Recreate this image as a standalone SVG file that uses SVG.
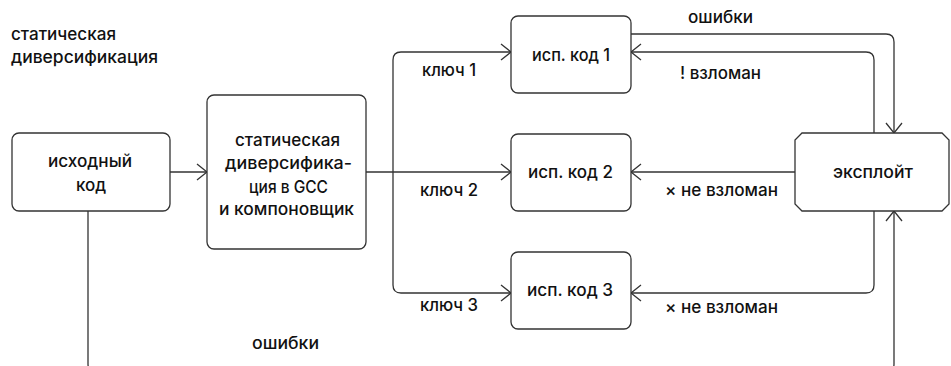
<svg xmlns="http://www.w3.org/2000/svg" width="951" height="366" viewBox="0 0 951 366">
<style>
text{font-family:Inter,"Noto Sans",sans-serif;font-size:17px;fill:#111;font-weight:500}
.c{text-anchor:middle}
.box{fill:#fff;stroke:#333;stroke-width:1.3}
.ln{fill:none;stroke:#333;stroke-width:1.3}
</style>
<defs>
<marker id="a" markerUnits="userSpaceOnUse" markerWidth="12" markerHeight="18" viewBox="-1 -1 12 18" refX="10" refY="8" orient="auto">
<path d="M0 0 L10 8 L0 16" fill="none" stroke="#333" stroke-width="1.3"/>
</marker>
</defs>
<text x="11" y="40" textLength="105" lengthAdjust="spacingAndGlyphs">статическая</text>
<text x="11" y="63" textLength="147" lengthAdjust="spacingAndGlyphs">диверсификация</text>
<g id="connectors">
<path class="ln" d="M170 172 H207" marker-end="url(#a)"/>
<path class="ln" d="M366 172 H511" marker-end="url(#a)"/>
<path class="ln" d="M393 172 V60 Q393 52 401 52 H511" marker-end="url(#a)"/>
<path class="ln" d="M393 172 V285 Q393 293 401 293 H511" marker-end="url(#a)"/>
<path class="ln" d="M795 172 H631" marker-end="url(#a)"/>
<path class="ln" d="M874 133 V60 Q874 52 866 52 H631" marker-end="url(#a)"/>
<path class="ln" d="M874 211 V285 Q874 293 866 293 H631" marker-end="url(#a)"/>
<path class="ln" d="M631 34 H886 Q894 34 894 42 V133" marker-end="url(#a)"/>
<path class="ln" d="M88 211 V364 Q88 372 96 372 H886 Q894 372 894 364 V211" marker-end="url(#a)"/>
<text x="422" y="76" textLength="54" lengthAdjust="spacingAndGlyphs">ключ 1</text>
<text x="420" y="196" textLength="58" lengthAdjust="spacingAndGlyphs">ключ 2</text>
<text x="420" y="311" textLength="58" lengthAdjust="spacingAndGlyphs">ключ 3</text>
<text x="688" y="23" textLength="65" lengthAdjust="spacingAndGlyphs">ошибки</text>
<text x="680" y="79" textLength="81" lengthAdjust="spacingAndGlyphs">! взломан</text>
<text x="665" y="196" textLength="113" lengthAdjust="spacingAndGlyphs">× не взломан</text>
<text x="665" y="313" textLength="113" lengthAdjust="spacingAndGlyphs">× не взломан</text>
<text x="252" y="349" textLength="67" lengthAdjust="spacingAndGlyphs">ошибки</text>
</g>
<g id="src">
<rect class="box" x="12" y="133" width="158" height="78" rx="7"/>
<text class="c" x="90" y="167" textLength="84" lengthAdjust="spacingAndGlyphs">исходный</text>
<text class="c" x="91" y="191">код</text>
</g>
<g id="gcc">
<rect class="box" x="207" y="95" width="159" height="154" rx="7"/>
<text class="c" x="287.5" y="146" textLength="105" lengthAdjust="spacingAndGlyphs">статическая</text>
<text class="c" x="288.5" y="169" textLength="127" lengthAdjust="spacingAndGlyphs">диверсифика-</text>
<text class="c" x="288.5" y="193" textLength="79" lengthAdjust="spacingAndGlyphs">ция в GCC</text>
<text class="c" x="286.5" y="215" textLength="135" lengthAdjust="spacingAndGlyphs">и компоновщик</text>
</g>
<g id="bin1">
<rect class="box" x="511" y="16" width="120" height="77" rx="7"/>
<text class="c" x="571" y="61" textLength="78" lengthAdjust="spacingAndGlyphs">исп. код 1</text>
</g>
<g id="bin2">
<rect class="box" x="511" y="134" width="120" height="77" rx="7"/>
<text class="c" x="570.5" y="178" textLength="85" lengthAdjust="spacingAndGlyphs">исп. код 2</text>
</g>
<g id="bin3">
<rect class="box" x="511" y="252" width="120" height="77" rx="7"/>
<text class="c" x="570" y="296" textLength="86" lengthAdjust="spacingAndGlyphs">исп. код 3</text>
</g>
<g id="exploit">
<polygon class="box" points="802,133 942,133 949,140 949,204 942,211 802,211 795,204 795,140"/>
<text class="c" x="873" y="178" textLength="80" lengthAdjust="spacingAndGlyphs">эксплойт</text>
</g>
</svg>
